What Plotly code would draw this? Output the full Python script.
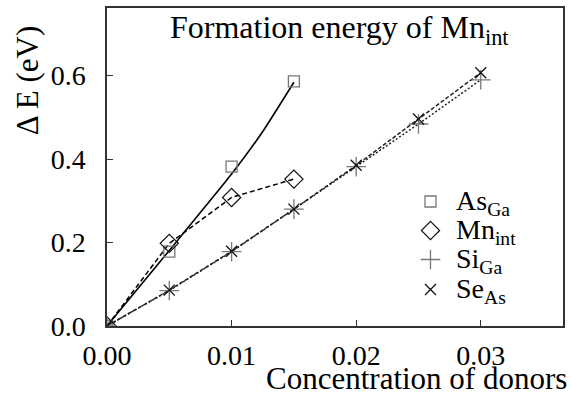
import plotly.graph_objects as go

# Data
conc_as = [0.0, 0.005, 0.01, 0.015]
e_as = [0.0, 0.178, 0.382, 0.586]
fit_as_x = [0.0, 0.005, 0.01, 0.0125, 0.015]
fit_as_y = [0.0, 0.181, 0.364, 0.466, 0.584]

conc_mn = [0.0, 0.005, 0.01, 0.015]
e_mn = [0.0, 0.198, 0.308, 0.352]

conc_si = [0.0, 0.005, 0.01, 0.015, 0.02, 0.025, 0.03]
e_si = [0.0, 0.085, 0.178, 0.280, 0.382, 0.484, 0.590]

conc_se = [0.0, 0.005, 0.01, 0.015, 0.02, 0.025, 0.03]
e_se = [0.0, 0.086, 0.179, 0.280, 0.385, 0.496, 0.607]

x_ticks = [0.0, 0.01, 0.02, 0.03]
x_tick_text = ["0.00", "0.01", "0.02", "0.03"]
y_ticks = [0.0, 0.2, 0.4, 0.6]
y_tick_text = ["0.0", "0.2", "0.4", "0.6"]

legend_labels = ["As<sub>Ga</sub>", "Mn<sub>int</sub>", "Si<sub>Ga</sub>", "Se<sub>As</sub>"]
legend_rows = [0.3915, 0.3003, 0.2091, 0.1148]

FONT = "Liberation Serif"

fig = go.Figure()

# lines
fig.add_trace(go.Scatter(x=fit_as_x, y=fit_as_y, mode="lines", showlegend=False,
                         line=dict(color="black", width=1.6, shape="spline", smoothing=0.5),
                         hoverinfo="skip"))
fig.add_trace(go.Scatter(x=conc_mn, y=e_mn, mode="lines", showlegend=False,
                         line=dict(color="black", width=1.5, dash="5px,3px"), hoverinfo="skip"))
fig.add_trace(go.Scatter(x=conc_si, y=e_si, mode="lines", showlegend=False,
                         line=dict(color="#222", width=1.5, dash="2px,2px"), hoverinfo="skip"))
fig.add_trace(go.Scatter(x=conc_se, y=e_se, mode="lines", showlegend=False,
                         line=dict(color="#222", width=1.5, dash="4px,2px"), hoverinfo="skip"))

styles = [
    dict(symbol="square-open", size=11, color="#777", line=dict(width=1.3, color="#777")),
    dict(symbol="diamond-open", size=14, color="#111", line=dict(width=1.2, color="#111")),
    dict(symbol="cross-thin-open", size=14, color="#777", line=dict(width=1.3, color="#777")),
    dict(symbol="x-thin-open", size=11, color="#111", line=dict(width=1.3, color="#111")),
]
series = [(conc_as, e_as), (conc_mn, e_mn), (conc_si, e_si), (conc_se, e_se)]

for (xs, ys), st, name in zip(series, styles, legend_labels):
    fig.add_trace(go.Scatter(x=xs, y=ys, mode="markers", name=name, showlegend=False,
                             marker=st))

# manual legend: markers on an overlay unit axis
for st, yrow in zip(styles, legend_rows):
    fig.add_trace(go.Scatter(x=[0.7094], y=[yrow], mode="markers", showlegend=False,
                             marker=st, xaxis="x2", yaxis="y2", hoverinfo="skip"))

axis_common = dict(showgrid=False, zeroline=False, showline=True, linecolor="#333", linewidth=1.5,
                   mirror=True, ticks="inside", ticklen=6, tickwidth=1.3, tickcolor="#333",
                   tickfont=dict(family=FONT, size=28, color="black"))

fig.update_xaxes(range=[0, 0.0366], tickvals=x_ticks, ticktext=x_tick_text,
                 ticklabelstandoff=4, **axis_common)
fig.update_yaxes(range=[0, 0.762], tickvals=y_ticks, ticktext=y_tick_text,
                 ticklabelstandoff=14, **axis_common)

annotations = [
    dict(text="Formation energy of Mn<sub>int</sub>", xref="paper", yref="paper",
         x=0.509, y=1.0, xanchor="center", yanchor="top", yshift=1, showarrow=False,
         font=dict(family=FONT, size=32, color="black")),
    dict(text="Concentration of donors", xref="paper", yref="paper",
         x=1.0, y=-0.104, xanchor="right", yanchor="top", xshift=6, showarrow=False,
         font=dict(family=FONT, size=31, color="black")),
    dict(text="\u0394 E (eV)", xref="paper", yref="paper", textangle=-90,
         x=0, y=0.77, xanchor="center", yanchor="middle", xshift=-80, showarrow=False,
         font=dict(family=FONT, size=31, color="black")),
]
for lab, yrow in zip(legend_labels, legend_rows):
    annotations.append(dict(text=lab, xref="paper", yref="paper", x=0.762, y=yrow,
                            xanchor="left", yanchor="middle", yshift=-1, showarrow=False,
                            font=dict(family=FONT, size=28, color="black")))

fig.update_layout(
    width=571, height=406,
    margin=dict(l=107, r=6, t=8, b=80),
    plot_bgcolor="white", paper_bgcolor="white",
    font=dict(family=FONT, color="black"),
    xaxis2=dict(overlaying="x", range=[0, 1], visible=False, fixedrange=True),
    yaxis2=dict(overlaying="y", range=[0, 1], visible=False, fixedrange=True),
    showlegend=False,
    annotations=annotations,
)

fig.write_html("out.html")
